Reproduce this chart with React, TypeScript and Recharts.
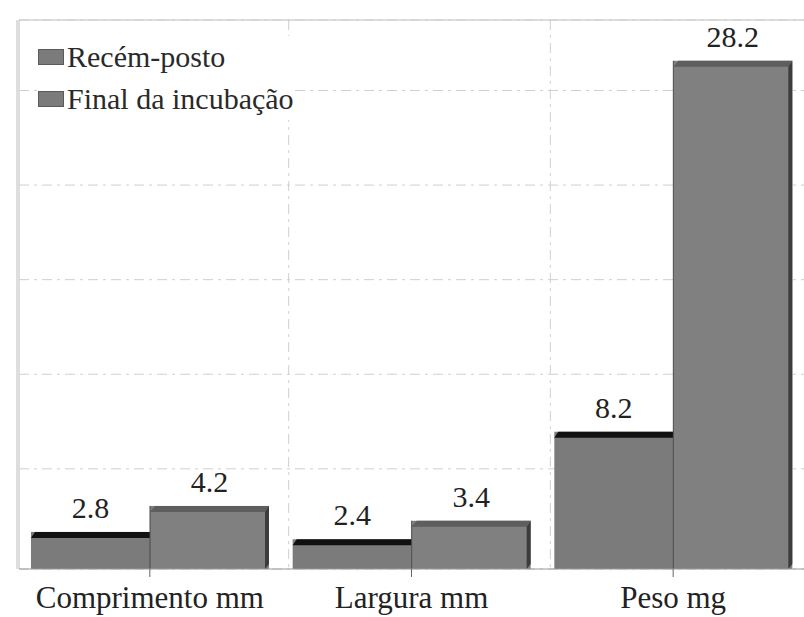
import { BarChart, Bar, XAxis, YAxis, CartesianGrid, LabelList } from "recharts";

const categories = ["Comprimento mm", "Largura mm", "Peso mg"];
const recemPosto = [2.8, 2.4, 8.2];
const finalIncubacao = [4.2, 3.4, 28.2];
const seriesNames = ["Recém-posto", "Final da incubação"];
// grid lines sit on the "back wall" of the original 3D chart
const gridTicks = [6.2, 11.3, 16.4, 21.5, 26.6];

const data = categories.map((name, i) => ({
    name,
    recem: recemPosto[i],
    final: finalIncubacao[i],
}));

const FONT = "'Times New Roman', Times, 'Liberation Serif', Tinos, 'DejaVu Serif', 'Noto Serif', serif";

// front bar: flat grey with a black top edge
const FrontBar = (props: any) => {
    const { x, y, width, height } = props;
    if (!height || height <= 0) return null;
    return (
        <g>
            <rect x={x} y={y} width={width} height={height} fill="#7b7b7b" />
            <polygon
                points={`${x},${y + 6} ${x + 4},${y} ${x + width},${y} ${x + width},${y + 6}`}
                fill="#111"
            />
        </g>
    );
};

// back bar: grey with darker top and right faces
const BackBar = (props: any) => {
    const { x, y, width, height } = props;
    if (!height || height <= 0) return null;
    return (
        <g>
            <rect x={x} y={y} width={width} height={height} fill="#808080" />
            <polygon
                points={`${x},${y + 6} ${x + 5},${y} ${x + width},${y} ${x + width - 4},${y + 6}`}
                fill="#5e5e5e"
            />
            <polygon
                points={`${x + width - 4},${y + 6} ${x + width},${y} ${x + width},${y + height - 5} ${x + width - 4},${y + height}`}
                fill="#3c3c3c"
            />
            <line x1={x} y1={y} x2={x} y2={y + height} stroke="#4a4a4a" strokeWidth={1} />
        </g>
    );
};

const LegendBox = () => (
    <div
        style={{
            position: "absolute",
            left: 38,
            top: 36,
            background: "#fff",
            fontFamily: FONT,
            fontSize: 30,
            color: "#2a2a2a",
            lineHeight: "42px",
        }}
    >
        {seriesNames.map((n) => (
            <div key={n} style={{ display: "flex", alignItems: "center" }}>
                <span
                    style={{
                        display: "inline-block",
                        width: 24,
                        height: 14,
                        background: "#7b7b7b",
                        border: "1px solid #5a5a5a",
                        marginRight: 3,
                    }}
                />
                <span>{n}</span>
            </div>
        ))}
    </div>
);

const App = () => {
    return (
        <div style={{ position: "absolute", left: 0, top: 0, width: 804, height: 617, background: "#fff", overflow: "hidden" }}>
            <BarChart
                width={804}
                height={617}
                data={data}
                margin={{ top: 20, right: 0, left: 19, bottom: 0 }}
                barSize={119}
                barGap={0}
            >
                {/* outer frame of the plot */}
                <CartesianGrid
                    stroke="#bdbdbd"
                    horizontalCoordinatesGenerator={({ offset }: any) => [offset.top]}
                    verticalCoordinatesGenerator={({ offset }: any) => [offset.left - 2, offset.left]}
                />
                <CartesianGrid
                    stroke="#cfcfcf"
                    strokeDasharray="10 5 3 5"
                    verticalCoordinatesGenerator={({ offset }: any) => [
                        offset.left + offset.width / 3 + 8,
                        offset.left + (offset.width * 2) / 3 + 8,
                    ]}
                />
                <XAxis
                    dataKey="name"
                    height={48}
                    axisLine={{ stroke: "#9a9a9a" }}
                    tickLine={{ stroke: "#666" }}
                    tickSize={8}
                    tickMargin={9}
                    tick={{ fontFamily: FONT, fontSize: 31, fill: "#222" }}
                    interval={0}
                />
                <YAxis hide type="number" domain={[0.8, 30.4]} allowDataOverflow ticks={gridTicks} />
                <Bar dataKey="recem" name={seriesNames[0]} fill="#7b7b7b" shape={<FrontBar />} isAnimationActive={false}>
                    <LabelList
                        dataKey="recem"
                        position="top"
                        offset={14}
                        style={{ fontFamily: FONT, fontSize: 30, fill: "#222" }}
                    />
                </Bar>
                <Bar dataKey="final" name={seriesNames[1]} fill="#808080" shape={<BackBar />} isAnimationActive={false}>
                    <LabelList
                        dataKey="final"
                        position="top"
                        offset={14}
                        style={{ fontFamily: FONT, fontSize: 30, fill: "#222" }}
                    />
                </Bar>
            </BarChart>
            <LegendBox />
        </div>
    );
};

export default App;
